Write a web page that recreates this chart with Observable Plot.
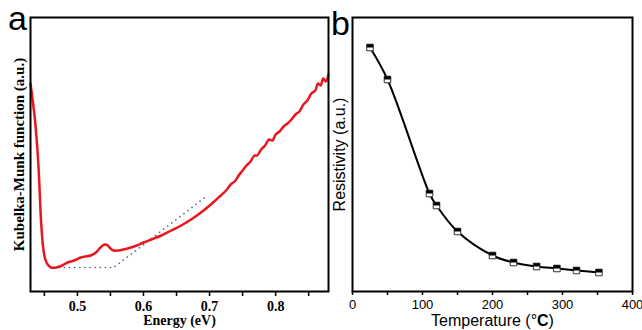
<!DOCTYPE html>
<html><head><meta charset="utf-8">
<script src="https://cdn.jsdelivr.net/npm/d3@7"></script>
<script src="https://cdn.jsdelivr.net/npm/@observablehq/plot@0.6"></script>
<style>
body{margin:0;background:#fff;}
#wrap{position:relative;width:642px;height:330px;overflow:hidden;background:#fff;}
.pl{position:absolute;top:0;}
.letter{position:absolute;font-family:"Liberation Sans",Arial,sans-serif;font-size:34px;line-height:1;color:#000;}
</style></head><body>
<div id="wrap">
  <div id="pa" class="pl" style="left:0px"></div>
  <div id="pb" class="pl" style="left:320px"></div>
  <div class="letter" style="left:8px;top:1px">a</div>
  <div class="letter" style="left:331px;top:6px">b</div>
</div>
<script>
// ---- Panel a: Kubelka-Munk function vs energy ----
const energy = [0.429,0.436,0.441,0.445,0.448,0.451,0.455,0.460,0.468,0.477,0.485,0.495,0.505,0.512,0.520,0.528,0.535,0.541,0.546,0.550,0.555,0.562,0.576,0.590,0.600,0.612,0.627,0.642,0.657,0.672,0.687,0.702,0.717,
  0.725,0.732,0.738,0.744,0.750,0.756,0.762,0.768,0.772,0.778,0.784,0.790,0.795,0.800,0.806,0.812,0.818,0.824,0.830,0.836,0.842,0.848,0.854,0.860,0.864,0.868,0.872,0.876,0.880];
const kmValues = [208,170,126,70,45,33,27,24,24,26,29,31,34,35,36,39,44,47,46,43,41,41,43,46,49,52,56,61,66,72,79,87,96,
  101,107,110,116,121,126,130,136,136,142,146,152,151,157,160,165,168,172,177,180,187,191,198,201,208,206,213,210,217];
const baseEnergy = [0.465,0.555,0.695];
const baseValues = [24,24,95];
const majorE = [0.5,0.6,0.7,0.8];
const minorE = [0.45,0.55,0.65,0.75,0.85];

// ---- Panel b: resistivity vs temperature ----
const temps = [25,50,110,120,150,200,230,263,292,320,352];
const resist = [244,212,98,86,60,36,29,25,23,21,19];
const majorT = [0,100,200,300,400];
const minorT = [50,150,250,350];

const kmData = energy.map((e,i)=>({e, v: kmValues[i]}));
const baseData = baseEnergy.map((e,i)=>({e, v: baseValues[i]}));
const resData = temps.map((t,i)=>({t, r: resist[i]}));

const serif = "'Liberation Serif','Times New Roman',serif";
const sans = "'Liberation Sans',Arial,sans-serif";

const pa = Plot.plot({
  width: 330, height: 330,
  marginLeft: 30, marginRight: 2, marginTop: 17, marginBottom: 39,
  style: {background: "transparent", overflow: "visible"},
  x: {domain: [0.429, 0.880], label: null},
  y: {domain: [0, 274], axis: null},
  marks: [
    Plot.line(baseData, {x: "e", y: "v", stroke: "#4a5aa8", strokeWidth: 1.6, strokeDasharray: "0.1,5", strokeLinecap: "round"}),
    Plot.line(kmData, {x: "e", y: "v", stroke: "#e8161e", strokeWidth: 2.5, curve: "catmull-rom"}),
    Plot.frame({stroke: "black", strokeWidth: 2}),
    Plot.axisX({ticks: majorE, tickSize: 5, tickPadding: 5, tickFormat: d3.format(".1f"), fontFamily: serif, fontSize: 14, fontWeight: "bold", label: null, strokeWidth: 1.5}),
    Plot.axisX({ticks: minorE, tickSize: 5, tickFormat: () => "", label: null, strokeWidth: 1.5}),
    Plot.text(["Energy (eV)"], {text: d => d, frameAnchor: "bottom", lineAnchor: "middle", textAnchor: "middle", dy: 29.5, fontFamily: serif, fontSize: 14, fontWeight: "bold"}),
    Plot.text(["Kubelka-Munk function (a.u.)"], {text: d => d, frameAnchor: "left", textAnchor: "middle", lineAnchor: "middle", rotate: -90, dx: -11, fontFamily: serif, fontSize: 15, fontWeight: "bold"})
  ]
});
document.getElementById("pa").appendChild(pa);

const halfTop = {
  draw(context, size) {
    const w = Math.sqrt(size) / 2;
    context.moveTo(-w, -w); context.lineTo(w, -w); context.lineTo(w, 0); context.lineTo(-w, 0); context.closePath();
  }
};

const pb = Plot.plot({
  width: 322, height: 330,
  marginLeft: 32, marginRight: 10, marginTop: 17, marginBottom: 39,
  style: {background: "transparent", overflow: "visible"},
  x: {domain: [0, 400], label: null},
  y: {domain: [0, 274], axis: null},
  marks: [
    Plot.line(resData, {x: "t", y: "r", stroke: "black", strokeWidth: 2, curve: "catmull-rom"}),
    Plot.dot(resData, {x: "t", y: "r", symbol: "square", r: 3.7, fill: "white", stroke: "#333", strokeWidth: 1}),
    Plot.dot(resData, {x: "t", y: "r", symbol: halfTop, r: 3.7, fill: "black"}),
    Plot.frame({stroke: "black", strokeWidth: 2}),
    Plot.axisX({ticks: majorT, tickSize: 4, tickPadding: 4, tickFormat: d3.format("d"), fontFamily: sans, fontSize: 13, label: null, strokeWidth: 1.5}),
    Plot.axisX({ticks: minorT, tickSize: 4, tickFormat: () => "", label: null, strokeWidth: 1.5}),
    Plot.text(["Temperature (°C)"], {text: d => d, frameAnchor: "bottom", lineAnchor: "middle", textAnchor: "middle", dy: 29, fontFamily: sans, fontSize: 16}),
    Plot.text(["Resistivity (a.u.)"], {text: d => d, frameAnchor: "left", textAnchor: "middle", lineAnchor: "middle", rotate: -90, dx: -13, fontFamily: sans, fontSize: 16})
  ]
});
pb.querySelectorAll("text").forEach(t => {
  if (t.textContent === "Temperature (°C)") {
    t.innerHTML = 'Temperature (°<tspan font-weight="bold">C</tspan>)';
  }
});
document.getElementById("pb").appendChild(pb);
</script>
</body></html>
